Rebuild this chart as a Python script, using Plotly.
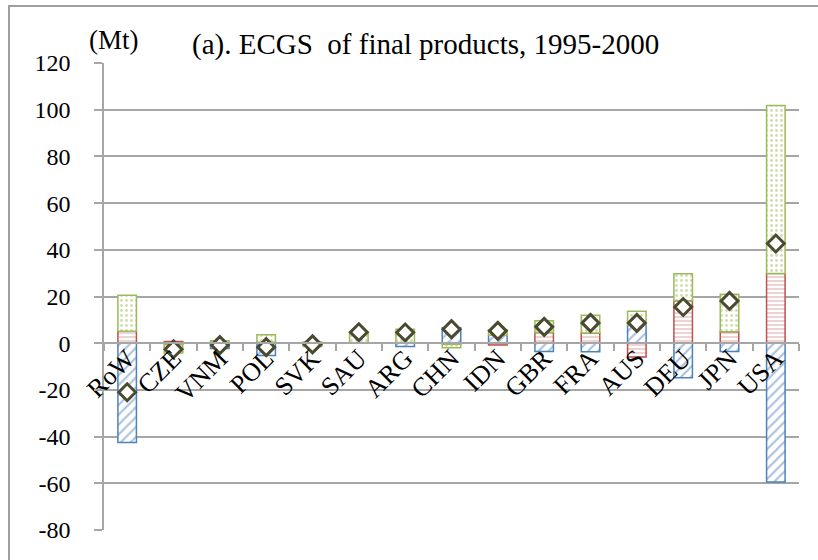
import plotly.graph_objects as go

# Economies, ordered by net balance
countries = ["RoW", "CZE", "VNM", "POL", "SVK", "SAU", "ARG", "CHN",
             "IDN", "GBR", "FRA", "AUS", "DEU", "JPN", "USA"]

# Components of the change (Mt)
blue_part = [-42.5, -0.4, -2.3, -5.3, -0.5, 0.0, -1.4, 6.6,
             3.4, -3.6, -3.7, 7.8, -14.8, -3.6, -59.4]
red_part = [5.1, 0.7, 0.3, 0.4, 0.4, 0.2, 0.3, -0.4,
            -0.8, 4.6, 4.4, -5.9, 18.2, 4.9, 29.8]
green_part = [15.4, -3.8, 0.8, 3.2, -0.9, 4.4, 5.7, -1.5,
              2.2, 5.0, 7.6, 5.9, 11.5, 16.1, 72.0]
# Net total (Mt)
net_total = [-21.0, -2.6, -0.8, -1.7, -0.5, 4.7, 4.6, 6.0,
             5.3, 7.0, 8.7, 8.7, 15.5, 18.1, 42.7]

y_ticks = list(range(-80, 121, 20))
y_tick_text = [str(v) for v in y_ticks]

SERIF = "Liberation Serif"
GRID = "#A6A6A6"

W, H = 818, 560
ML, MR, MT, MB = 104, 19, 63, 30


def pattern_bar(values, color, shape, size, solidity):
    return go.Bar(
        x=countries, y=values, width=0.4,
        marker=dict(
            color="white",
            line=dict(color=color, width=1.5),
            pattern=dict(shape=shape, fgcolor=color, bgcolor="white",
                         size=size, solidity=solidity, fillmode="overlay"),
        ),
        showlegend=False, hoverinfo="x+y",
    )


fig = go.Figure()
fig.add_trace(pattern_bar(blue_part, "#4F81BD", "/", 7, 0.28))
fig.add_trace(pattern_bar(red_part, "#C0504D", "-", 4, 0.25))
fig.add_trace(pattern_bar(green_part, "#9BBB59", ".", 5, 0.25))
fig.add_trace(go.Scatter(
    x=countries, y=net_total, mode="markers",
    marker=dict(symbol="diamond", size=13, color="white",
                line=dict(color="#4A4A30", width=3)),
    showlegend=False,
))

ymin, ymax = -80, 120
zero_pos = (0 - ymin) / (ymax - ymin)

fig.update_layout(
    width=W, height=H,
    margin=dict(l=ML, r=MR, t=MT, b=MB),
    paper_bgcolor="white", plot_bgcolor="white",
    barmode="relative",
    font=dict(family=SERIF, color="black"),
    xaxis=dict(
        type="category", anchor="free", position=zero_pos,
        showline=True, linecolor=GRID, linewidth=1.5,
        showgrid=False, ticks="outside", tickson="boundaries",
        ticklen=7, tickcolor=GRID, tickwidth=1.5,
        tickangle=-45, tickfont=dict(family=SERIF, size=26, color="black"),
        ticklabelstandoff=-11,
        range=[-0.5, len(countries) - 0.5],
        fixedrange=True,
    ),
    yaxis=dict(
        range=[ymin, ymax], tickvals=y_ticks, ticktext=y_tick_text,
        showline=True, linecolor=GRID, linewidth=1.5,
        showgrid=True, gridcolor=GRID, gridwidth=1.5,
        zeroline=False,
        ticks="outside", ticklen=8, tickcolor=GRID, tickwidth=1.5,
        tickfont=dict(family=SERIF, size=24, color="black"),
        ticklabelstandoff=19,
        fixedrange=True,
    ),
)

# Chart frame
pw, ph = W - ML - MR, H - MT - MB
fig.add_shape(type="rect", xref="paper", yref="paper",
              x0=(9 - ML) / pw, x1=1.2,
              y0=-0.2, y1=1 + (MT - 6) / ph,
              line=dict(color="#9E9E9E", width=2), layer="below")

fig.add_annotation(text="(Mt)", xref="paper", yref="paper",
                   x=(114 - ML) / pw, y=1 + (MT - 40) / ph,
                   showarrow=False, xanchor="center", yanchor="middle",
                   font=dict(family=SERIF, size=27, color="black"))
fig.add_annotation(text="(a). ECGS  of final products, 1995-2000",
                   xref="paper", yref="paper",
                   x=(425 - ML) / pw, y=1 + (MT - 45) / ph,
                   showarrow=False, xanchor="center", yanchor="middle",
                   font=dict(family=SERIF, size=29, color="black"))

fig.write_html("out.html")
